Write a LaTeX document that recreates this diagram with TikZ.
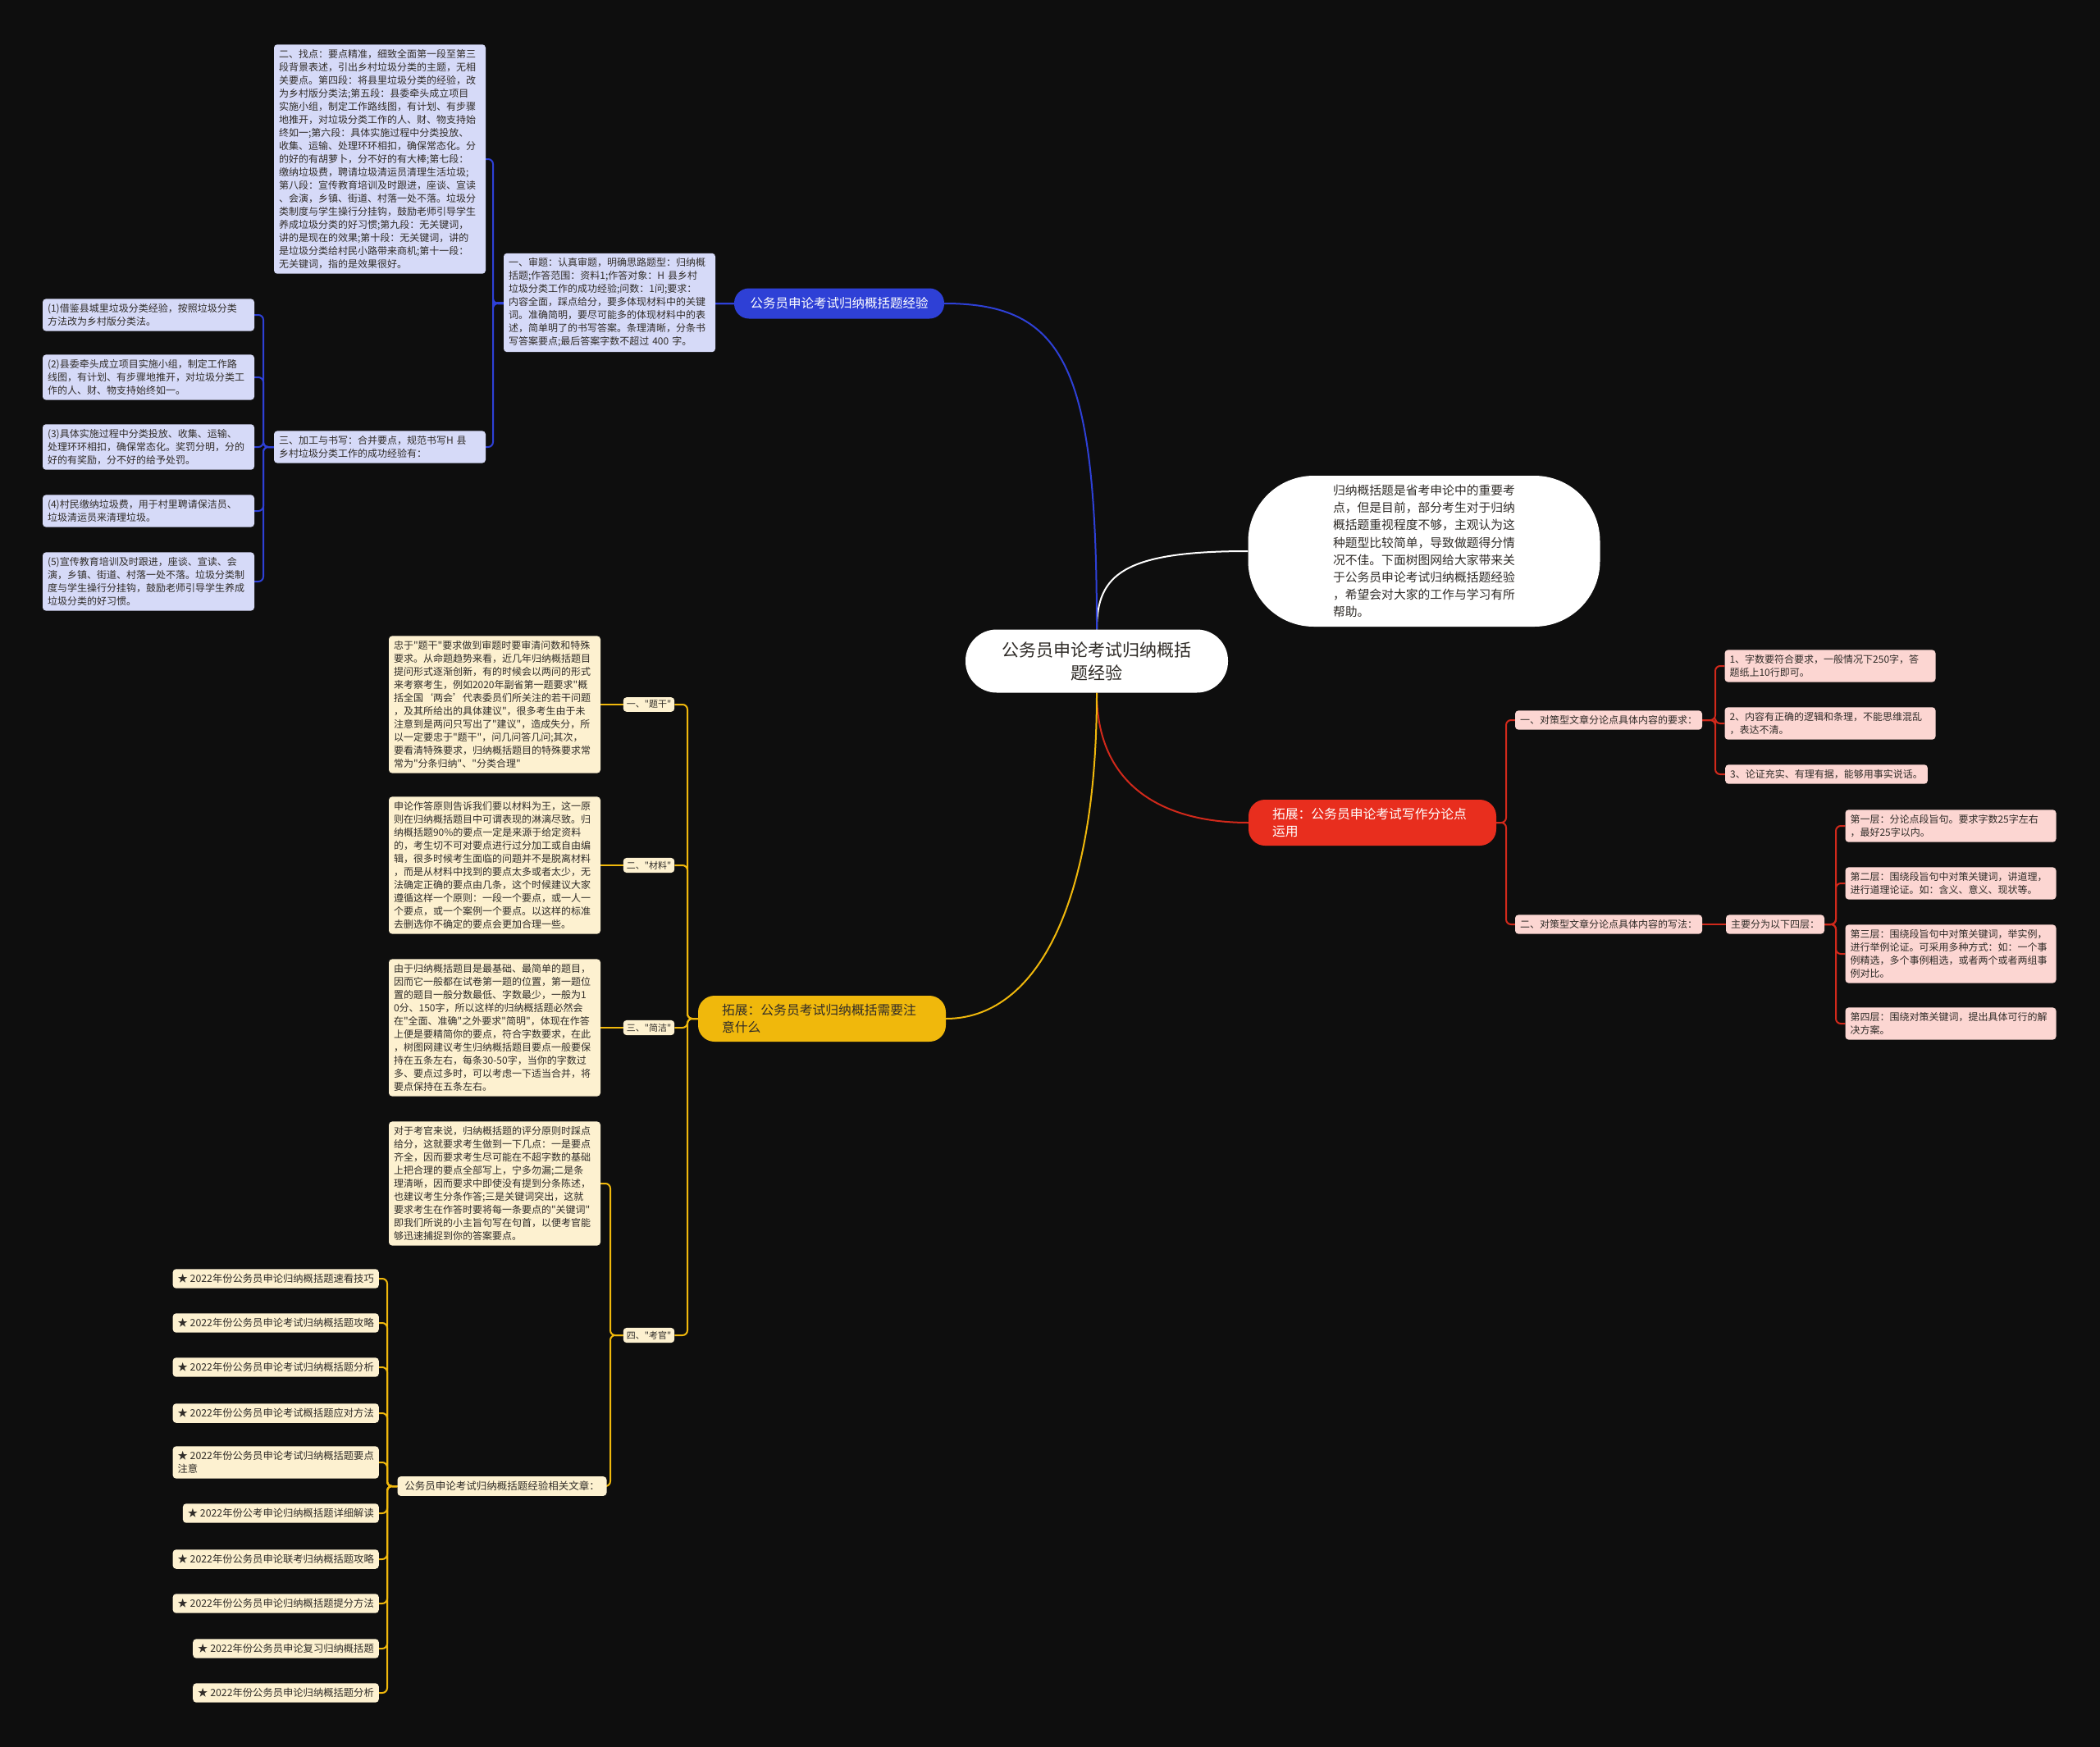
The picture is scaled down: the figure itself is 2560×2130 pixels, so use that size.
\documentclass[tikz,border=0pt]{standalone}
\usepackage{fontspec}
\newfontfamily\cjk{Noto Sans CJK SC}
\usepackage{xcolor}
\usetikzlibrary{backgrounds}
\definecolor{bg}{RGB}{14,14,14}
\definecolor{txt}{RGB}{48,44,40}
\definecolor{bnode}{RGB}{46,64,214}
\definecolor{bfill}{RGB}{214,218,248}
\definecolor{rnode}{RGB}{232,46,30}
\definecolor{rfill}{RGB}{252,214,210}
\definecolor{ynode}{RGB}{240,184,12}
\definecolor{yfill}{RGB}{253,241,208}
\tikzset{
  card/.style={rounded corners=4pt,inner xsep=6pt,inner ysep=6pt,align=left,text=txt,
    font=\cjk\fontsize{12}{16}\selectfont},
  bleaf/.style={card,fill=bfill,text width=246pt},
  rleaf/.style={card,fill=rfill,text width=245pt},
  yleaf/.style={card,fill=yfill,text width=246pt},
  rtag/.style={card,fill=rfill},
  ytag/.style={card,fill=yfill,inner xsep=4pt,inner ysep=4pt,font=\cjk\fontsize{11}{14}\selectfont},
  item/.style={card,fill=yfill,anchor=east,font=\cjk\fontsize{12.3}{16}\selectfont},
  topic/.style={rounded corners=20pt,inner xsep=29pt,align=left,minimum width=302,minimum height=56,
    font=\cjk\fontsize{15.8}{21}\selectfont,text width=244pt},
  bline/.style={draw=bnode,line width=2pt,rounded corners=6pt},
  rline/.style={draw=rnode!90!black,line width=2pt,rounded corners=6pt},
  yline/.style={draw=ynode,line width=2pt,rounded corners=6pt},
  wline/.style={draw=white,line width=2pt}
}
\begin{document}
\cjk
\begin{tikzpicture}[x=1pt,y=-1pt]
\useasboundingbox (0,0) rectangle (2560,2130);
% centre and intro
\node[fill=white,rounded corners=38pt,minimum width=320,minimum height=77,align=center,text=txt,
  font=\cjk\fontsize{21}{28}\selectfont] (ctr) at (1337,806) {公务员申论考试归纳概括\\题经验};
\node[fill=white,rounded corners=80pt,minimum width=429,minimum height=184,align=left,text=txt,
  font=\cjk\fontsize{14.8}{21.2}\selectfont] (intro) at (1736,672)
  {归纳概括题是省考申论中的重要考\\点，但是目前，部分考生对于归纳\\概括题重视程度不够，主观认为这\\种题型比较简单，导致做题得分情\\况不佳。下面树图网给大家带来关\\于公务员申论考试归纳概括题经验\\，希望会对大家的工作与学习有所\\帮助。};

% blue branch
\node[fill=bnode,text=white,rounded corners=18pt,minimum width=256,minimum height=37,
  font=\cjk\fontsize{15.5}{20}\selectfont] (blue) at (1023,370) {公务员申论考试归纳概括题经验};
\node[bleaf] (sh) at (743,369) {一、审题：认真审题，明确思路题型：归纳概\\括题;作答范围：资料1;作答对象：H~县乡村\\垃圾分类工作的成功经验;问数：1问;要求：\\内容全面，踩点给分，要多体现材料中的关键\\词。准确简明，要尽可能多的体现材料中的表\\述，简单明了的书写答案。条理清晰，分条书\\写答案要点;最后答案字数不超过~400~字。};
\node[bleaf] (zd) at (463,194) {二、找点：要点精准，细致全面第一段至第三\\段背景表述，引出乡村垃圾分类的主题，无相\\关要点。第四段：将县里垃圾分类的经验，改\\为乡村版分类法;第五段：县委牵头成立项目\\实施小组，制定工作路线图，有计划、有步骤\\地推开，对垃圾分类工作的人、财、物支持始\\终如一;第六段：具体实施过程中分类投放、\\收集、运输、处理环环相扣，确保常态化。分\\的好的有胡萝卜，分不好的有大棒;第七段：\\缴纳垃圾费，聘请垃圾清运员清理生活垃圾;\\第八段：宣传教育培训及时跟进，座谈、宣读\\、会演，乡镇、街道、村落一处不落。垃圾分\\类制度与学生操行分挂钩，鼓励老师引导学生\\养成垃圾分类的好习惯;第九段：无关键词，\\讲的是现在的效果;第十段：无关键词，讲的\\是垃圾分类给村民小路带来商机;第十一段：\\无关键词，指的是效果很好。};
\node[bleaf] (jg) at (463,545) {三、加工与书写：合并要点，规范书写H~县\\乡村垃圾分类工作的成功经验有：};
\node[bleaf] (b1) at (181,384) {(1)借鉴县城里垃圾分类经验，按照垃圾分类\\方法改为乡村版分类法。};
\node[bleaf] (b2) at (181,460) {(2)县委牵头成立项目实施小组，制定工作路\\线图，有计划、有步骤地推开，对垃圾分类工\\作的人、财、物支持始终如一。};
\node[bleaf] (b3) at (181,545) {(3)具体实施过程中分类投放、收集、运输、\\处理环环相扣，确保常态化。奖罚分明，分的\\好的有奖励，分不好的给予处罚。};
\node[bleaf] (b4) at (181,623) {(4)村民缴纳垃圾费，用于村里聘请保洁员、\\垃圾清运员来清理垃圾。};
\node[bleaf] (b5) at (181,709) {(5)宣传教育培训及时跟进，座谈、宣读、会\\演，乡镇、街道、村落一处不落。垃圾分类制\\度与学生操行分挂钩，鼓励老师引导学生养成\\垃圾分类的好习惯。};

% red branch
\node[topic,fill=rnode,text=white] (red) at (1673,1003) {拓展：公务员申论考试写作分论点\\运用};
\node[rtag] (r1) at (1961,878) {一、对策型文章分论点具体内容的要求：};
\node[rtag] (r2) at (1961,1127) {二、对策型文章分论点具体内容的写法：};
\node[rleaf] (q1) at (2231,812) {1、字数要符合要求，一般情况下250字，答\\题纸上10行即可。};
\node[rleaf] (q2) at (2231,882) {2、内容有正确的逻辑和条理，不能思维混乱\\，表达不清。};
\node[rtag,anchor=west] (q3) at (2103,944) {3、论证充实、有理有据，能够用事实说话。};
\node[rtag] (zy) at (2164,1127) {主要分为以下四层：};
\node[rleaf] (c1) at (2378,1007) {第一层：分论点段旨句。要求字数25字左右\\，最好25字以内。};
\node[rleaf] (c2) at (2378,1077) {第二层：围绕段旨句中对策关键词，讲道理，\\进行道理论证。如：含义、意义、现状等。};
\node[rleaf] (c3) at (2378,1163) {第三层：围绕段旨句中对策关键词，举实例，\\进行举例论证。可采用多种方式：如：一个事\\例精选，多个事例粗选，或者两个或者两组事\\例对比。};
\node[rleaf] (c4) at (2378,1248) {第四层：围绕对策关键词，提出具体可行的解\\决方案。};

% yellow branch
\node[topic,fill=ynode,text=txt] (ylw) at (1002,1242) {拓展：公务员考试归纳概括需要注\\意什么};
\node[ytag] (l1) at (791,859) {一、"题干"};
\node[ytag] (l2) at (791,1055) {二、"材料"};
\node[ytag] (l3) at (791,1253) {三、"简洁"};
\node[ytag] (l4) at (791,1628) {四、"考官"};
\node[yleaf] (t1) at (603,859) {忠于"题干"要求做到审题时要审清问数和特殊\\要求。从命题趋势来看，近几年归纳概括题目\\提问形式逐渐创新，有的时候会以两问的形式\\来考察考生，例如2020年副省第一题要求"概\\括全国‘两会’代表委员们所关注的若干问题\\，及其所给出的具体建议"，很多考生由于未\\注意到是两问只写出了"建议"，造成失分，所\\以一定要忠于"题干"，问几问答几问;其次，\\要看清特殊要求，归纳概括题目的特殊要求常\\常为"分条归纳"、"分类合理"};
\node[yleaf] (t2) at (603,1055) {申论作答原则告诉我们要以材料为王，这一原\\则在归纳概括题目中可谓表现的淋漓尽致。归\\纳概括题90\%的要点一定是来源于给定资料\\的，考生切不可对要点进行过分加工或自由编\\辑，很多时候考生面临的问题并不是脱离材料\\，而是从材料中找到的要点太多或者太少，无\\法确定正确的要点由几条，这个时候建议大家\\遵循这样一个原则：一段一个要点，或一人一\\个要点，或一个案例一个要点。以这样的标准\\去删选你不确定的要点会更加合理一些。};
\node[yleaf] (t3) at (603,1253) {由于归纳概括题目是最基础、最简单的题目，\\因而它一般都在试卷第一题的位置，第一题位\\置的题目一般分数最低、字数最少，一般为1\\0分、150字，所以这样的归纳概括题必然会\\在"全面、准确"之外要求"简明"，体现在作答\\上便是要精简你的要点，符合字数要求，在此\\，树图网建议考生归纳概括题目要点一般要保\\持在五条左右，每条30-50字，当你的字数过\\多、要点过多时，可以考虑一下适当合并，将\\要点保持在五条左右。};
\node[yleaf] (t4) at (603,1443) {对于考官来说，归纳概括题的评分原则时踩点\\给分，这就要求考生做到一下几点：一是要点\\齐全，因而要求考生尽可能在不超字数的基础\\上把合理的要点全部写上，宁多勿漏;二是条\\理清晰，因而要求中即使没有提到分条陈述，\\也建议考生分条作答;三是关键词突出，这就\\要求考生在作答时要将每一条要点的"关键词"\\即我们所说的小主旨句写在句首，以便考官能\\够迅速捕捉到你的答案要点。};
\node[card,fill=yfill,minimum width=255,font=\cjk\fontsize{12.5}{16}\selectfont] (rel) at (612,1812) {公务员申论考试归纳概括题经验相关文章：};
\foreach \i/\y/\t in {1/1559/{★ 2022年份公务员申论归纳概括题速看技巧},
  2/1613/{★ 2022年份公务员申论考试归纳概括题攻略},
  3/1667/{★ 2022年份公务员申论考试归纳概括题分析},
  4/1723/{★ 2022年份公务员申论考试概括题应对方法},
  5/1783/{★ 2022年份公务员申论考试归纳概括题要点\\注意},
  6/1845/{★ 2022年份公考申论归纳概括题详细解读},
  7/1901/{★ 2022年份公务员申论联考归纳概括题攻略},
  8/1955/{★ 2022年份公务员申论归纳概括题提分方法},
  9/2010/{★ 2022年份公务员申论复习归纳概括题},
  10/2064/{★ 2022年份公务员申论归纳概括题分析}}
  {\node[item] (a\i) at (462,\y) {\t};}

\begin{scope}[on background layer]
\fill[bg] (0,0) rectangle (2560,2130);
\draw[wline] (ctr.north) .. controls (1337,700) and (1370,672) .. (intro.west);
\draw[bline] (ctr.north) .. controls (1337,450) and (1300,370) .. (blue.east);
\draw[rline] (ctr.south) .. controls (1337,960) and (1420,1003) .. (red.west);
\draw[yline] (ctr.south) .. controls (1337,1110) and (1260,1242) .. (ylw.east);
% blue brackets
\coordinate (bsp) at (601,370);
\foreach \c in {sh,zd,jg} {\draw[bline] (blue.west) -- (bsp) |- (\c.east);}
\coordinate (lsp) at (321,545);
\foreach \i in {1,...,5} {\draw[bline] (jg.west) -- (lsp) |- (b\i.east);}
% red brackets
\coordinate (rsp) at (1836,1003);
\foreach \c in {r1,r2} {\draw[rline] (red.east) -- (rsp) |- (\c.west);}
\coordinate (qsp) at (2091,878);
\foreach \i in {1,2,3} {\draw[rline] (r1.east) -- (qsp) |- (q\i.west);}
\draw[rline] (r2.east) -- (zy.west);
\coordinate (csp) at (2238,1127);
\foreach \i in {1,...,4} {\draw[rline] (zy.east) -- (csp) |- (c\i.west);}
% yellow brackets
\coordinate (ysp) at (838,1242);
\foreach \i in {1,...,4} {\draw[yline] (ylw.west) -- (ysp) |- (l\i.east);}
\foreach \i in {1,2,3} {\draw[yline] (l\i.west) -- (t\i.east);}
\coordinate (ksp) at (744,1628);
\foreach \c in {t4,rel} {\draw[yline] (l4.west) -- (ksp) |- (\c.east);}
\coordinate (asp) at (472,1812);
\foreach \i in {1,...,10} {\draw[yline] (rel.west) -- (asp) |- (a\i.east);}
\end{scope}
\end{tikzpicture}
\end{document}
